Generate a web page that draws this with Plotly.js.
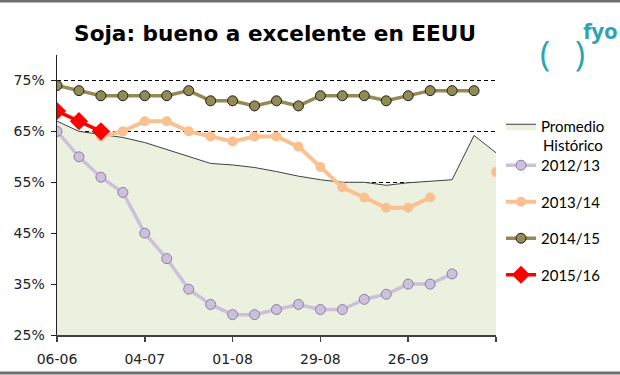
<!DOCTYPE html>
<html>
<head>
<meta charset="utf-8">
<script src="https://cdn.plot.ly/plotly-3.0.1.min.js"></script>
<style>html,body{margin:0;padding:0;background:#fff;}#chart{width:620px;height:375px;}</style>
</head>
<body>
<div id="chart"></div>
<script>
// Week categories (dd-mm)
const weeks = ['06-06','13-06','20-06','27-06','04-07','11-07','18-07','25-07','01-08','08-08','15-08','22-08','29-08','05-09','12-09','19-09','26-09','03-10','10-10','17-10','24-10'];
const tickWeeks = ['06-06','04-07','01-08','29-08','26-09','24-10'];
const tickLabels = ['06-06','04-07','01-08','29-08','26-09',''];
const yTicks = [25,35,45,55,65,75];
const yTickLabels = ['25%','35%','45%','55%','65%','75%'];

// Series (% bueno a excelente)
const promedio = [67,65,64.4,63.8,62.8,61.4,60.1,58.7,58.4,57.9,57.1,56.2,55.5,55.0,55.0,54.4,54.9,55.2,55.5,64.2,60.8];
const s1213 = [65,60,56,53,45,40,34,31,29,29,30,31,30,30,32,33,35,35,37,null,null];
const s1314 = [null,null,64,65,67,67,65,64,63,64,64,62,58,54,52,50,50,52,null,null,57];
const s1415 = [74,73,72,72,72,72,73,71,71,70,71,70,72,72,72,71,72,73,73,73,null];
const s1516 = [69,67,65,null,null,null,null,null,null,null,null,null,null,null,null,null,null,null,null,null,null];

// pixel helpers for layout placement
const L = 57, R = 496, T = 55, B = 335;
const px = v => (v - L) / (R - L);
const py = v => (B - v) / (B - T);

const legFont = {family: 'Lato, "Liberation Sans", sans-serif', size: 15, color: '#000'};

const traces = [
  {x: weeks, y: promedio, name: 'Promedio', type: 'scatter', mode: 'lines',
   fill: 'tozeroy', fillcolor: '#EBF1DE', line: {color: '#404040', width: 1},
   legend: 'legend', legendgroup: 'p'},
  {x: weeks, y: s1213, name: '2012/13', type: 'scatter', mode: 'lines+markers',
   line: {color: '#CCC1DA', width: 3.5},
   marker: {symbol: 'circle', size: 10, color: '#CCC1DA', line: {color: '#8E7CAE', width: 1}},
   legend: 'legend2', legendgroup: 'a'},
  {x: weeks, y: s1314, name: '2013/14', type: 'scatter', mode: 'lines+markers',
   line: {color: '#FAC090', width: 4}, connectgaps: false,
   marker: {symbol: 'circle', size: 10, color: '#FAC090', line: {color: '#FAC090', width: 0}},
   legend: 'legend2', legendgroup: 'b'},
  {x: weeks, y: s1415, name: '2014/15', type: 'scatter', mode: 'lines+markers',
   line: {color: '#948A54', width: 3.5},
   marker: {symbol: 'circle', size: 10, color: '#948A54', line: {color: '#1E1E1E', width: 1}},
   legend: 'legend2', legendgroup: 'c'},
  {x: weeks, y: s1516, name: '2015/16', type: 'scatter', mode: 'lines+markers',
   line: {color: '#FF0000', width: 3.5},
   marker: {symbol: 'diamond', size: 14, color: '#FF0000', line: {color: '#FF0000', width: 0}},
   legend: 'legend2', legendgroup: 'd'}
];

const layout = {
  width: 620, height: 375,
  margin: {l: L, r: 620 - R, t: T, b: 375 - B, pad: 0, autoexpand: false},
  paper_bgcolor: '#fff', plot_bgcolor: '#fff',
  showlegend: true,
  title: {text: 'Soja: bueno a excelente en EEUU',
          font: {family: '"DejaVu Sans", Verdana, sans-serif', size: 21.6, weight: 'bold', color: '#000'},
          x: 275 / 620, xanchor: 'center', xref: 'container',
          y: 1 - 33 / 375, yanchor: 'middle', yref: 'container'},
  xaxis: {type: 'category', categoryorder: 'array', categoryarray: weeks,
          range: [0, 20], tickmode: 'array', tickvals: tickWeeks, ticktext: tickLabels,
          showgrid: false, zeroline: false, showline: true, linecolor: '#404040', linewidth: 1.5,
          ticks: 'outside', ticklen: 5, tickcolor: '#404040', tickwidth: 1.5,
          ticklabelstandoff: 6,
          tickfont: {family: '"DejaVu Sans", Verdana, sans-serif', size: 14, color: '#222'}},
  yaxis: {range: [25, 80], tickmode: 'array', tickvals: yTicks, ticktext: yTickLabels,
          showgrid: true, gridcolor: '#000', gridwidth: 1, griddash: '4px,3px',
          zeroline: false, showline: true, linecolor: '#222', linewidth: 1.5,
          ticks: 'outside', ticklen: 5, tickcolor: '#222', tickwidth: 1,
          ticklabelstandoff: 3,
          tickfont: {family: '"DejaVu Sans", Verdana, sans-serif', size: 14, color: '#222'}},
  legend: {x: px(501), xanchor: 'left', y: py(110), yanchor: 'top',
           bgcolor: 'rgba(0,0,0,0)', font: legFont, itemwidth: 30, valign: 'top'},
  legend2: {x: px(501), xanchor: 'left', y: py(149), yanchor: 'top',
            bgcolor: 'rgba(0,0,0,0)', font: legFont, itemwidth: 30,
            traceorder: 'grouped', tracegroupgap: 14},
  annotations: [
    {text: 'Histórico', xref: 'paper', yref: 'paper', x: px(541), y: py(145),
     xanchor: 'left', yanchor: 'middle', showarrow: false, font: legFont},
    {text: '(', xref: 'paper', yref: 'paper', x: px(545), y: py(53), xanchor: 'center', yanchor: 'middle',
     showarrow: false, font: {family: '"Open Sans", sans-serif', size: 34, color: '#2AA3B3'}},
    {text: ')', xref: 'paper', yref: 'paper', x: px(580), y: py(53), xanchor: 'center', yanchor: 'middle',
     showarrow: false, font: {family: '"Open Sans", sans-serif', size: 34, color: '#2AA3B3'}},
    {text: '<b>fyo</b>', xref: 'paper', yref: 'paper', x: px(600), y: py(30), xanchor: 'center', yanchor: 'middle',
     showarrow: false, font: {family: '"Open Sans", sans-serif', size: 22, color: '#2AA3B3'}}
  ],
  shapes: [
    {type: 'line', xref: 'paper', yref: 'paper', x0: px(0), x1: px(620), y0: py(1), y1: py(1),
     line: {color: '#6E6E6E', width: 3}},
    {type: 'line', xref: 'paper', yref: 'paper', x0: px(0), x1: px(620), y0: py(373), y1: py(373),
     line: {color: '#6E6E6E', width: 3}}
  ]
};

Plotly.newPlot('chart', traces, layout, {staticPlot: true, displayModeBar: false});
</script>
</body>
</html>
